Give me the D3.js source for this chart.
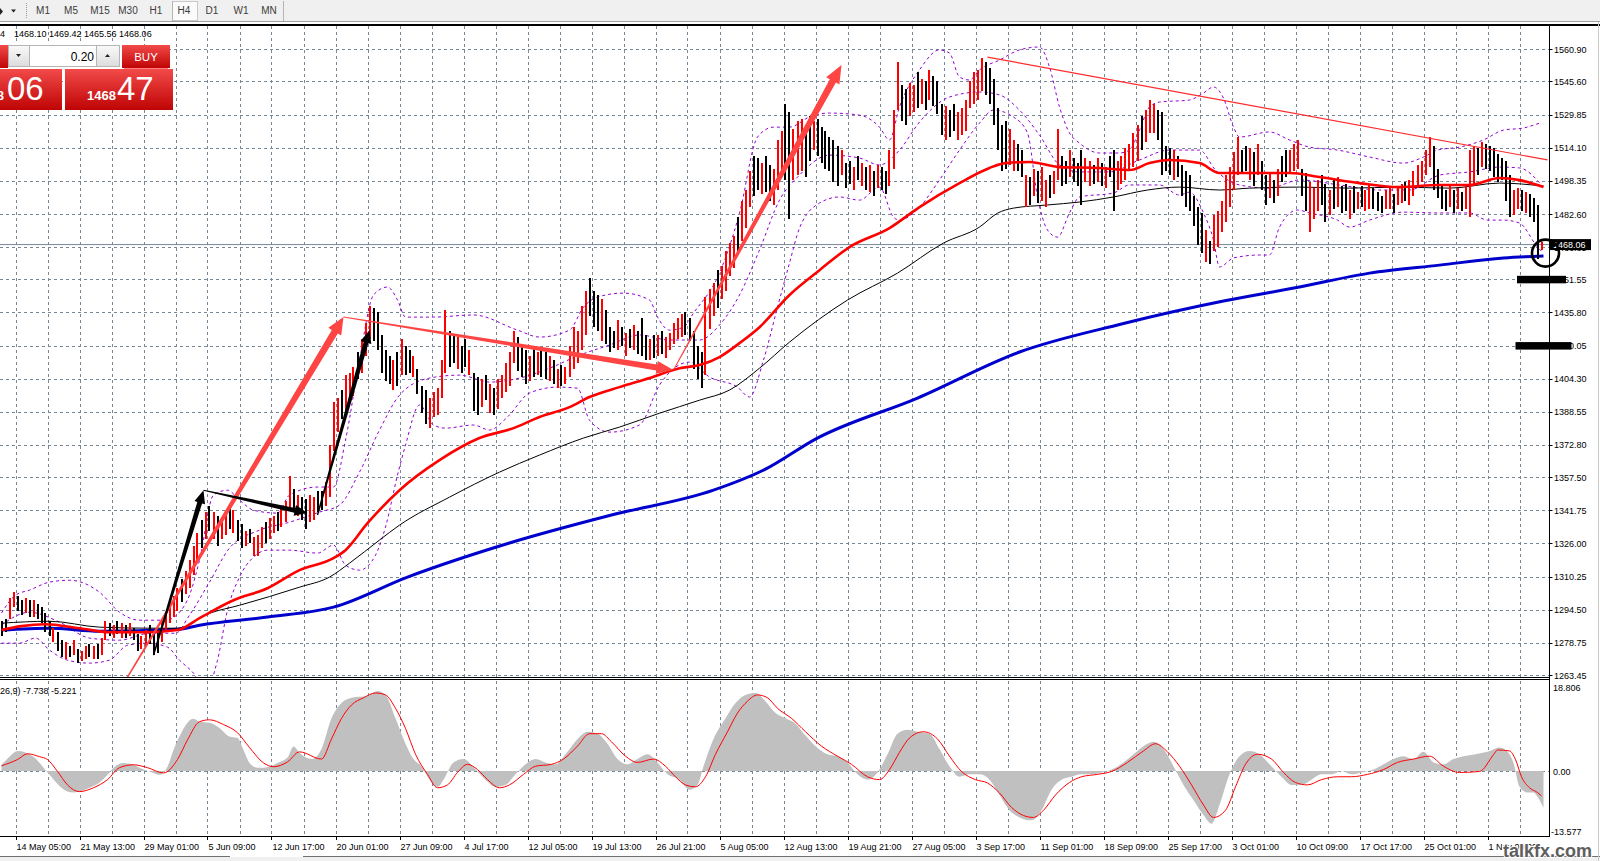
<!DOCTYPE html>
<html>
<head>
<meta charset="utf-8">
<title>XAUUSD H4</title>
<script src="https://d3js.org/d3.v7.min.js"></script>
<style>
  body { margin: 0; background: #fff; overflow: hidden; }
  text { font-family: "Liberation Sans", Arial, sans-serif; }
</style>
</head>
<body>
<svg id="chart" width="1600" height="861"></svg>
<script>
// ---- data ----
var timeframes = ["M1", "M5", "M15", "M30", "H1", "H4", "D1", "W1", "MN"];
var lastQuote = [1468.10, 1469.42, 1465.56, 1468.06];
var lotSize = "0.20";
var sellQuote = ["1468", "06"], buyQuote = ["1468", "47"];

var priceTicks = [1560.90, 1545.60, 1529.85, 1514.10, 1498.35, 1482.60, 1466.85, 1451.55, 1435.80, 1420.05,
                  1404.30, 1388.55, 1372.80, 1357.50, 1341.75, 1326.00, 1310.25, 1294.50, 1278.75, 1263.45];
var timeLabels = ["14 May 05:00", "21 May 13:00", "29 May 01:00", "5 Jun 09:00", "12 Jun 17:00", "20 Jun 01:00",
                  "27 Jun 09:00", "4 Jul 17:00", "12 Jul 05:00", "19 Jul 13:00", "26 Jul 21:00", "5 Aug 05:00",
                  "12 Aug 13:00", "19 Aug 21:00", "27 Aug 05:00", "3 Sep 17:00", "11 Sep 01:00", "18 Sep 09:00",
                  "25 Sep 17:00", "3 Oct 01:00", "10 Oct 09:00", "17 Oct 17:00", "25 Oct 01:00", "1 Nov 09:00"];
var macdTicks = [18.806, 0.00, -13.577];
var macdLegend = "26,9) -7.738 -5.221";

// one entry every 2nd H4 bar
var highs = [
1289,1290,1300,1303,1301,1299,1300,1299, 1299,1297,1296,1293,1289,1286,1284,1280,
1279,1277,1280,1276,1275,1277,1278,1277, 1278,1281,1289,1288,1287,1289,1288,1287,
1288,1286,1283,1282,1285,1287,1284,1285, 1290,1293,1297,1301,1305,1309,1313,1318,
1325,1331,1337,1341,1344,1341,1339,1338, 1341,1344,1342,1337,1335,1332,1333,1329,
1330,1334,1336,1338,1339,1341,1343,1346, 1358,1352,1349,1348,1347,1349,1348,1351,
1351,1355,1373,1393,1395,1399,1406,1407, 1410,1417,1423,1431,1439,1438,1436,1425,
1418,1415,1413,1417,1423,1420,1418,1415, 1409,1401,1399,1395,1398,1400,1413,1437,
1427,1425,1424,1420,1423,1418,1407,1405, 1404,1406,1402,1400,1404,1406,1412,1417,
1427,1424,1420,1418,1415,1419,1417,1418, 1417,1415,1413,1409,1411,1410,1420,1429,
1427,1439,1446,1452,1446,1444,1442,1437, 1429,1427,1432,1429,1426,1428,1430,1427,
1433,1425,1423,1425,1425,1427,1424,1426, 1431,1433,1435,1436,1433,1427,1420,1417,
1443,1447,1450,1456,1458,1465,1469,1472, 1481,1489,1494,1503,1510,1509,1507,1510,
1506,1504,1518,1522,1535,1531,1523,1527, 1528,1525,1529,1527,1528,1524,1522,1519,
1518,1515,1513,1507,1508,1505,1510,1507, 1505,1506,1503,1506,1505,1503,1513,1532,
1555,1544,1542,1545,1544,1550,1547,1546, 1551,1548,1546,1535,1534,1532,1535,1531,
1533,1537,1546,1550,1551,1557,1555,1552, 1547,1533,1525,1527,1523,1518,1516,1513,
1501,1500,1504,1503,1505,1499,1501,1503, 1523,1510,1508,1513,1509,1507,1513,1509,
1508,1506,1509,1507,1505,1510,1513,1508, 1510,1514,1516,1521,1525,1529,1532,1537,
1535,1532,1531,1515,1514,1513,1510,1506, 1503,1501,1491,1486,1483,1475,1470,1482,
1484,1489,1501,1505,1512,1519,1513,1515, 1514,1512,1516,1508,1501,1502,1499,1504,
1510,1513,1513,1516,1518,1504,1502,1498, 1495,1499,1501,1497,1494,1499,1500,1496,
1497,1494,1496,1493,1496,1494,1497,1495, 1493,1491,1494,1495,1492,1496,1497,1498,
1499,1503,1506,1508,1513,1519,1515,1504, 1496,1494,1496,1494,1495,1493,1496,1513,
1515,1514,1517,1516,1515,1514,1511,1509, 1508,1501,1494,1495,1494,1493,1492,1490,
1487,1469.42];
var lows = [
1282,1284,1290,1296,1294,1292,1293,1291, 1291,1290,1288,1284,1282,1279,1275,1272,
1271,1272,1273,1269,1270,1271,1272,1271, 1271,1273,1280,1282,1281,1283,1281,1281,
1282,1280,1275,1276,1277,1278,1273,1274, 1279,1284,1288,1291,1294,1298,1302,1305,
1311,1318,1324,1328,1332,1328,1325,1328, 1330,1333,1331,1327,1324,1325,1326,1320,
1320,1324,1326,1328,1331,1332,1334,1336, 1343,1341,1339,1337,1333,1336,1337,1341,
1342,1344,1348,1370,1379,1385,1389,1393, 1396,1404,1407,1415,1423,1422,1418,1407,
1403,1402,1399,1401,1406,1406,1407,1405, 1397,1388,1383,1381,1386,1387,1395,1407,
1410,1412,1409,1407,1410,1406,1389,1387, 1391,1394,1388,1387,1390,1395,1398,1401,
1412,1408,1405,1402,1403,1405,1406,1405, 1404,1403,1402,1400,1401,1402,1405,1409,
1412,1418,1425,1434,1429,1427,1422,1421, 1417,1419,1418,1420,1415,1419,1418,1416,
1415,1413,1413,1414,1415,1416,1414,1418, 1421,1423,1424,1425,1422,1409,1404,1400,
1406,1428,1434,1438,1442,1446,1453,1457, 1465,1470,1476,1486,1491,1494,1492,1493,
1489,1487,1494,1501,1499,1480,1499,1501, 1503,1500,1508,1513,1510,1507,1504,1503,
1498,1496,1501,1495,1497,1494,1499,1496, 1494,1493,1491,1495,1494,1492,1496,1504,
1532,1527,1525,1529,1531,1533,1535,1532, 1537,1534,1530,1520,1518,1519,1522,1518,
1520,1522,1533,1535,1537,1541,1539,1535, 1525,1513,1503,1504,1506,1503,1503,1500,
1486,1487,1491,1488,1489,1486,1490,1492, 1499,1496,1497,1500,1498,1496,1487,1498,
1496,1497,1498,1496,1495,1500,1484,1494, 1497,1499,1503,1505,1508,1513,1517,1521,
1521,1518,1501,1503,1501,1499,1500,1491, 1486,1484,1477,1468,1464,1460,1459,1465,
1467,1474,1479,1486,1494,1501,1502,1503, 1499,1496,1501,1494,1487,1490,1488,1491,
1498,1500,1502,1503,1504,1491,1484,1474, 1480,1484,1487,1479,1482,1485,1486,1483,
1484,1480,1483,1485,1486,1484,1485,1485, 1484,1483,1485,1485,1483,1487,1488,1489,
1487,1491,1495,1498,1501,1505,1494,1490, 1485,1484,1486,1483,1485,1484,1485,1481,
1497,1501,1505,1504,1503,1500,1498,1499, 1489,1481,1482,1485,1484,1483,1481,1479,
1461,1465.56];
// r = up bar (red), b = down bar (black)
var barColors = ["bbrrbbrb","rbbbbrbb","rbrbrrbr","brrbrbrb","rbbrrbbb","rrrrrbrr","rrbrbrbr","rbrbbrbr",
                 "rrbrrbrr","rbrbbrrb","brrrrbrr","rbrrrbbb","bbrbrbbr","bbbrrrrr","bbrbbrbb","rbrbrrrr",
                 "rbbbrbrb","brbrbrrr","rrrbbbrb","bbrbrbrb","bbrbrbrr","rrrbbbbb","rrrbrrrr","brrrbbrb",
                 "brrrbbrr","rbbrbbbb","bbrbbrbr","brbrbbrr","rbbrrbrb","rbbbrbbr","rrrrrrbb","bbbbrrbb",
                 "rbrbrrbr","rbbrbbbr","rbrbrbbr","rrrrrbrr","rbbbbrbb","bbbbbrbr","rrrrrrbb","rbrbbrbr",
                 "bbrrrbbr","rrbbrbrb","brbrbrrb","bbrrbrrb","rrrrrrbb","bbrbrbrr","rbrbbbbb","bbrrbrbb",
                 "br"].join("");

// moving averages: [bar index, price]
var maRed = [[0,1284.8],[10,1286.7],[22,1287.6],[39,1285.7],[54,1283.8],[74,1283.8],[88,1284.8],[99,1290.5],
             [116,1299.0],[133,1304.7],[149,1313.3],[166,1319.0],[172,1322.8],[183,1335.6],[199,1351.3],
             [219,1365.6],[239,1376.1],[256,1380.8],[269,1386.1],[284,1390.8],[294,1395.6],[309,1400.3],
             [324,1404.6],[339,1409.3],[349,1410.8],[359,1414.6],[369,1421.2],[379,1428.8],[394,1444.1],
             [409,1455.9],[424,1466.9],[444,1475.9],[459,1485.9],[479,1497.3],[494,1504.5],[502,1506.8],
             [514,1507.3],[529,1504.9],[549,1504.5],[564,1503.5],[574,1506.8],[584,1508.3],[599,1506.8],
             [609,1502.1],[644,1502.1],[659,1500.2],[679,1497.3],[699,1495.4],[719,1496.4],[734,1496.4],
             [749,1499.7],[759,1498.7],[771,1495.4]];
var maBlack = [[0,1288.1],[24,1289.0],[49,1286.2],[74,1285.7],[88,1285.7],[104,1292.8],[119,1296.6],
               [149,1305.2],[164,1310.0],[174,1316.6],[189,1327.6],[199,1334.7],[224,1348.0],[249,1359.9],
               [269,1368.0],[291,1376.1],[309,1381.3],[329,1387.9],[349,1394.1],[364,1398.9],[379,1409.3],
               [394,1421.7],[423,1441.7],[448,1454.5],[471,1468.8],[489,1476.4],[498,1483.0],[506,1485.4],
               [523,1486.9],[539,1488.3],[556,1490.7],[573,1494.0],[589,1495.4],[609,1494.0],[624,1494.9],
               [649,1495.4],[674,1494.9],[699,1495.4],[724,1494.9],[749,1497.3],[771,1495.9]];
var maBlue = [[0,1284.8],[24,1285.7],[49,1284.3],[88,1285.2],[99,1287.1],[133,1291.0],[166,1295.7],
              [203,1310.0],[254,1326.2],[305,1339.5],[356,1351.3],[382,1361.3],[407,1375.6],[458,1395.1],
              [509,1417.0],[560,1430.3],[611,1441.2],[649,1447.9],[684,1454.5],[719,1458.3],[751,1461.7],
              [771,1462.6]];

// Bollinger bands: [bar index, price]
var bbUpper = [[0,1292.9],[7,1301.4],[14,1303.8],[24,1307.6],[34,1308.5],[49,1302.8],[59,1293.3],[69,1289.5],
               [82,1289.5],[89,1293.3],[94,1301.4],[99,1318.0],[106,1349.0],[113,1351.3],[119,1346.6],
               [126,1341.8],[138,1340.4],[144,1349.0],[158,1352.8],[166,1352.8],[172,1375.1],[179,1413.2],
               [186,1444.1],[193,1447.9],[198,1441.7],[202,1433.6],[216,1433.6],[236,1434.6],[258,1427.4],
               [269,1424.1],[284,1427.4],[291,1438.3],[298,1443.1],[311,1445.0],[324,1441.7],[328,1433.6],
               [334,1427.4],[341,1428.8],[346,1435.5],[359,1454.5],[369,1483.0],[378,1519.2],[386,1523.9],
               [394,1523.9],[404,1528.7],[414,1530.6],[429,1529.6],[439,1523.9],[444,1517.8],[449,1533.5],
               [459,1551.1],[469,1560.6],[474,1559.1],[479,1547.7],[484,1546.3],[489,1551.1],[499,1555.8],
               [509,1560.6],[519,1562.0],[524,1552.5],[529,1533.5],[534,1521.1],[539,1516.3],[549,1511.6],
               [559,1511.6],[564,1513.0],[569,1522.5],[574,1533.5],[579,1535.8],[594,1536.8],[601,1540.1],
               [606,1543.0],[611,1537.7],[616,1523.9],[619,1519.2],[634,1521.6],[644,1517.8],[654,1514.4],
               [668,1513.0],[684,1509.7],[701,1506.8],[711,1509.7],[718,1513.0],[729,1514.4],[741,1517.8],
               [751,1522.5],[761,1523.5],[769,1525.8]];
var bbMiddle = [[0,1287.2],[14,1293.3],[29,1288.6],[44,1281.0],[59,1280.0],[74,1283.3],[87,1283.3],
                [94,1291.9],[104,1307.6],[114,1323.8],[129,1332.3],[144,1336.1],[159,1340.9],[169,1344.2],
                [179,1359.9],[189,1379.9],[199,1396.5],[214,1404.6],[229,1406.0],[244,1402.7],[259,1404.6],
                [274,1409.3],[289,1415.5],[304,1420.3],[319,1425.1],[334,1422.7],[349,1422.7],[359,1429.8],
                [369,1444.1],[379,1465.5],[389,1489.2],[399,1501.1],[414,1510.6],[429,1509.2],[439,1505.9],
                [449,1513.0],[459,1526.3],[474,1538.2],[489,1540.6],[499,1539.2],[509,1532.0],[519,1520.1],
                [529,1505.9],[539,1502.6],[554,1502.6],[569,1508.3],[584,1513.0],[599,1513.0],[607,1503.5],
                [619,1496.4],[634,1494.9],[649,1498.8],[669,1496.4],[689,1494.0],[704,1494.0],[719,1501.1],
                [734,1502.6],[749,1504.9],[759,1504.5],[770,1496.4]];
var bbLower = [[0,1278.6],[9,1278.6],[17,1281.0],[24,1275.3],[33,1270.5],[44,1269.1],[54,1270.5],[63,1277.6],
               [73,1278.6],[83,1276.7],[89,1270.5],[96,1264.3],[102,1256.2],[108,1270.5],[113,1294.3],
               [119,1310.0],[126,1319.5],[133,1322.8],[144,1322.8],[158,1321.4],[166,1325.2],[172,1315.7],
               [179,1313.3],[187,1320.4],[192,1333.8],[198,1358.5],[202,1372.7],[209,1391.8],[216,1382.3],
               [222,1380.8],[236,1382.3],[244,1379.9],[253,1386.1],[264,1397.5],[278,1400.3],[288,1399.8],
               [294,1384.6],[304,1378.9],[319,1382.3],[329,1401.3],[344,1412.2],[354,1405.1],[368,1400.3],
               [374,1395.6],[381,1413.2],[388,1438.3],[394,1459.3],[399,1475.9],[409,1487.8],[419,1490.7],
               [429,1489.2],[439,1495.4],[446,1481.1],[449,1479.7],[459,1485.9],[469,1498.8],[479,1513.0],
               [489,1525.8],[496,1532.0],[506,1528.7],[513,1521.1],[518,1490.7],[523,1475.0],[528,1471.6],
               [534,1483.1],[539,1490.7],[556,1492.6],[564,1496.4],[579,1496.4],[589,1491.6],[594,1493.0],
               [601,1483.1],[606,1470.2],[609,1457.4],[616,1461.7],[629,1463.1],[634,1463.1],[639,1476.4],
               [648,1484.5],[654,1483.1],[668,1479.7],[674,1476.4],[684,1479.7],[701,1483.5],[718,1483.1],
               [734,1483.1],[743,1479.7],[751,1479.7],[759,1478.3],[768,1466.9],[771,1464.0]];

// MACD(12,26,9): histogram and signal, [bar index, value]
var macdHist = [[0,1.3],[4,3.0],[8,4.2],[16,3.0],[21,0.7],[24,-0.8],[33,-4.3],[36,-4.5],[44,-3.5],[49,-2.4],
                [53,-0.8],[56,0.7],[61,1.7],[66,1.3],[69,0.7],[74,-0.1],[79,-0.8],[83,0.9],[86,4.4],[89,7.2],
                [93,10.1],[96,10.9],[99,10.3],[104,10.1],[109,9.0],[114,7.2],[118,6.9],[121,4.4],[124,1.7],
                [128,0.7],[131,0.7],[138,1.7],[143,2.8],[146,5.1],[149,3.8],[155,2.5],[160,4.6],[165,11.0],
                [170,14.2],[175,15.3],[183,15.7],[188,16.7],[192,15.9],[197,11.0],[202,5.7],[206,2.5],[210,1.0],
                [214,-1.8],[218,-3.3],[221,-1.8],[226,1.8],[231,2.5],[237,0.3],[242,-1.8],[247,-3.3],[252,-2.9],
                [257,-0.7],[262,1.4],[267,2.5],[272,1.8],[277,1.4],[282,3.5],[288,6.7],[293,8.2],[298,7.8],
                [303,5.7],[308,2.5],[313,1.4],[318,2.5],[323,3.5],[328,1.8],[333,-0.7],[339,-1.8],[344,-3.9],
                [348,-2.9],[351,1.0],[356,6.7],[362,11.0],[367,14.2],[372,15.9],[377,16.3],[382,14.6],[387,12.1],
                [392,11.0],[397,9.9],[402,7.4],[407,5.2],[413,3.5],[418,3.1],[423,1.8],[428,-0.7],[433,-1.8],
                [438,-0.3],[443,3.5],[448,7.8],[453,8.6],[458,8.2],[464,7.8],[469,4.6],[474,1.0],[479,-1.2],
                [484,-0.7],[489,-0.7],[494,-1.8],[499,-5.0],[504,-8.2],[509,-9.7],[515,-10.3],[520,-8.2],
                [525,-3.9],[530,-1.8],[535,-1.2],[540,-0.7],[545,-0.7],[550,-0.3],[555,0.3],[561,1.8],[566,3.5],
                [571,5.2],[576,6.1],[581,4.6],[586,1.0],[591,-2.9],[596,-6.1],[601,-9.2],[605,-11.0],[609,-7.1],
                [614,-0.7],[619,3.1],[624,4.2],[629,3.5],[634,1.4],[640,-1.2],[645,-2.9],[650,-2.9],[655,-1.8],
                [660,-0.7],[665,-0.7],[670,0.0],[675,-0.7],[680,-0.3],[686,0.3],[691,1.4],[696,2.5],[701,3.1],
                [706,2.5],[711,4.0],[716,1.8],[721,1.4],[726,2.5],[731,3.1],[737,3.5],[743,4.0],[749,4.9],
                [753,4.0],[756,1.7],[759,-3.3],[763,-4.5],[766,-4.5],[768,-5.4],[771,-7.7]];
var macdSignal = [[0,1.1],[8,2.4],[13,3.6],[19,3.0],[23,2.4],[28,-0.1],[33,-2.9],[39,-4.3],[46,-3.5],[53,-1.8],
                  [59,0.7],[66,1.3],[73,0.7],[81,-0.4],[88,2.4],[93,6.5],[99,10.3],[104,10.7],[111,9.7],[118,8.0],
                  [124,4.9],[131,1.7],[136,0.9],[143,1.9],[149,4.0],[160,2.5],[165,6.7],[170,11.0],[175,13.8],
                  [181,15.3],[187,16.3],[192,15.9],[197,13.1],[202,8.9],[207,3.5],[213,-0.7],[218,-3.5],[223,-2.9],
                  [228,-0.3],[233,1.4],[238,0.3],[243,-1.8],[249,-3.5],[254,-2.9],[261,-0.7],[267,1.0],[275,1.4],
                  [281,2.5],[288,5.2],[294,7.8],[300,7.8],[305,6.1],[312,3.1],[318,1.8],[326,2.5],[332,1.0],
                  [337,-1.2],[342,-2.9],[347,-3.3],[352,-1.2],[357,3.5],[363,8.2],[368,12.1],[373,14.6],[378,15.9],
                  [383,15.3],[388,13.1],[395,11.0],[402,8.2],[410,5.2],[418,3.1],[425,1.4],[433,-1.2],[439,-1.8],
                  [444,0.3],[449,3.9],[454,6.9],[461,8.2],[468,6.7],[474,3.1],[480,-0.1],[487,-1.8],[493,-2.5],
                  [499,-4.6],[505,-7.6],[511,-9.3],[516,-9.7],[521,-8.2],[527,-5.0],[534,-2.4],[540,-1.2],
                  [548,-0.7],[555,-0.1],[563,1.8],[571,4.2],[577,5.7],[583,4.0],[589,1.0],[595,-2.9],[601,-7.1],
                  [606,-9.7],[612,-8.2],[617,-3.3],[622,1.4],[628,3.5],[635,2.5],[641,-0.3],[647,-2.4],[653,-2.9],
                  [660,-1.8],[668,-1.2],[675,-1.2],[683,-0.7],[691,0.3],[698,1.8],[706,2.5],[714,3.1],[721,1.0],
                  [729,-0.3],[739,-0.1],[746,3.4],[748,4.4],[754,4.2],[757,2.4],[760,-1.2],[764,-3.5],[768,-4.5],
                  [770,-5.2]];

// drawn objects, in [bar index, price]
var redArrows = [[[63,1262.4],[171,1433.6]], [[171,1433.6],[336,1408.4]], [[336,1408.4],[420,1553.4]]];
var blackArrows = [[[76,1272.9],[101,1351.3]], [[101,1351.3],[153,1340.4]], [[158,1339.5],[184,1427.4]]];
var trendLine = [[493,1557.2],[773,1508.3]];
var circleAt = [772, 1464.0];
var hiddenLevels = [1451.55, 1420.05];

// ---- layout ----
var W = 1600, H = 861;
var axisX = 1549.5, mainTop = 25, mainBottom = 677, macdTop = 681, macdBottom = 836;
var gridColor = "#778899";

var svg = d3.select("#chart");
var defs = svg.append("defs");

var x = d3.scaleLinear().domain([0, 771]).range([1.5, 1543.5]);
var y = d3.scaleLinear().domain([1263.45, 1560.90]).range([675, 49.3]);
var ym = d3.scaleLinear().domain([-13.577, 18.806]).range([macdBottom, macdTop]);

defs.append("clipPath").attr("id", "mainClip").append("rect")
    .attr("x", 0).attr("y", mainTop + 1).attr("width", axisX).attr("height", mainBottom - mainTop - 1);
defs.append("clipPath").attr("id", "macdClip").append("rect")
    .attr("x", 0).attr("y", macdTop).attr("width", axisX).attr("height", macdBottom - macdTop);

var redGrad = defs.append("linearGradient").attr("id", "redGrad").attr("x1", 0).attr("y1", 0).attr("x2", 0).attr("y2", 1);
redGrad.append("stop").attr("offset", "0%").attr("stop-color", "#f24a4a");
redGrad.append("stop").attr("offset", "100%").attr("stop-color", "#bf0404");
var btnGrad = defs.append("linearGradient").attr("id", "btnGrad").attr("x1", 0).attr("y1", 0).attr("x2", 0).attr("y2", 1);
btnGrad.append("stop").attr("offset", "0%").attr("stop-color", "#fafafa");
btnGrad.append("stop").attr("offset", "100%").attr("stop-color", "#dcdcdc");

svg.append("rect").attr("width", W).attr("height", H).attr("fill", "#fff");

// ---- toolbar ----
var bar = svg.append("g");
bar.append("rect").attr("width", W).attr("height", 21).attr("fill", "#f0f0f0");
bar.append("line").attr("x1", 0).attr("x2", W).attr("y1", 21.5).attr("y2", 21.5).attr("stroke", "#a0a0a0");
bar.append("path").attr("d", "M0,8L3,11.5L0,15Z").attr("fill", "#222");
bar.append("path").attr("d", "M11,9.5L16,9.5L13.5,12.5Z").attr("fill", "#222");
bar.append("line").attr("x1", 26.5).attr("x2", 26.5).attr("y1", 3).attr("y2", 19)
    .attr("stroke", "#999").attr("stroke-dasharray", "1,1");
bar.append("rect").attr("x", 172.5).attr("y", 1.5).attr("width", 25).attr("height", 19)
    .attr("fill", "#fbfbfb").attr("stroke", "#c9c9c9");
[172.5, 283.5].forEach(function(s) {
    bar.append("line").attr("x1", s).attr("x2", s).attr("y1", 1).attr("y2", 21).attr("stroke", "#b4b4b4");
});
var tfX = [43, 71, 100, 128, 156, 184, 212, 241, 269];
bar.selectAll("text.tf").data(timeframes).join("text")
    .attr("class", "tf")
    .attr("x", function(d, i) { return tfX[i]; })
    .attr("y", 14)
    .attr("text-anchor", "middle")
    .attr("font-size", 10)
    .attr("fill", "#3c3c3c")
    .text(function(d) { return d; });

// ---- grid ----
var grid = svg.append("g");
grid.selectAll("line.h").data(priceTicks).join("line")
    .attr("x1", 0).attr("x2", axisX)
    .attr("y1", function(d) { return Math.round(y(d)) + 0.5; })
    .attr("y2", function(d) { return Math.round(y(d)) + 0.5; })
    .attr("stroke", gridColor).attr("stroke-dasharray", "3,3");
var vGrid = d3.range(48).map(function(k) { return 7 + 16 * k; });
grid.selectAll("line.v").data(vGrid).join("line")
    .attr("x1", function(d) { return Math.round(x(d)) + 0.5; })
    .attr("x2", function(d) { return Math.round(x(d)) + 0.5; })
    .attr("y1", mainTop + 1).attr("y2", mainBottom)
    .attr("stroke", gridColor).attr("stroke-dasharray", "3,3");
grid.selectAll("line.vm").data(vGrid).join("line")
    .attr("x1", function(d) { return Math.round(x(d)) + 0.5; })
    .attr("x2", function(d) { return Math.round(x(d)) + 0.5; })
    .attr("y1", macdTop).attr("y2", macdBottom)
    .attr("stroke", gridColor).attr("stroke-dasharray", "3,3");

// ---- main pane ----
var main = svg.append("g").attr("clip-path", "url(#mainClip)");
var curve = d3.line().x(function(d) { return x(d[0]); }).y(function(d) { return y(d[1]); }).curve(d3.curveMonotoneX);

main.append("line").attr("x1", 0).attr("x2", axisX)
    .attr("y1", y(lastQuote[3])).attr("y2", y(lastQuote[3]))
    .attr("stroke", gridColor);

[bbUpper, bbMiddle, bbLower].forEach(function(b) {
    main.append("path").attr("d", curve(b)).attr("fill", "none")
        .attr("stroke", "#9400d3").attr("stroke-width", 1).attr("stroke-dasharray", "3,3");
});

main.append("path").attr("d", curve(maBlue)).attr("fill", "none").attr("stroke", "#0000cd").attr("stroke-width", 3);
main.append("path").attr("d", curve(maBlack)).attr("fill", "none").attr("stroke", "#000").attr("stroke-width", 1);

var bars = highs.map(function(h, j) { return { i: 2 * j, h: h, l: lows[j], up: barColors[j] === "r" }; });
main.selectAll("line.bar").data(bars).join("line")
    .attr("class", "bar")
    .attr("x1", function(d) { return Math.round(x(d.i)); })
    .attr("x2", function(d) { return Math.round(x(d.i)); })
    .attr("y1", function(d) { return y(d.h); })
    .attr("y2", function(d) { return y(d.l); })
    .attr("stroke", function(d) { return d.up ? "#ff0000" : "#000"; })
    .attr("stroke-width", 2)
    .attr("shape-rendering", "crispEdges");

main.append("path").attr("d", curve(maRed)).attr("fill", "none").attr("stroke", "#ff0000").attr("stroke-width", 2.6);

function arrowPath(a, b, w0, w1, hl, hw) {
    var dx = b[0] - a[0], dy = b[1] - a[1], L = Math.hypot(dx, dy);
    var ux = dx / L, uy = dy / L, nx = -uy, ny = ux;
    var bx = b[0] - ux * hl, by = b[1] - uy * hl;
    var pts = [
        [a[0] + nx * w0 / 2, a[1] + ny * w0 / 2],
        [bx + nx * w1 / 2, by + ny * w1 / 2],
        [bx + nx * hw / 2, by + ny * hw / 2],
        b,
        [bx - nx * hw / 2, by - ny * hw / 2],
        [bx - nx * w1 / 2, by - ny * w1 / 2],
        [a[0] - nx * w0 / 2, a[1] - ny * w0 / 2]
    ];
    return "M" + pts.map(function(p) { return p[0].toFixed(1) + "," + p[1].toFixed(1); }).join("L") + "Z";
}
function px(d) { return [x(d[0]), y(d[1])]; }

main.append("line")
    .attr("x1", x(trendLine[0][0])).attr("y1", y(trendLine[0][1]))
    .attr("x2", x(trendLine[1][0])).attr("y2", y(trendLine[1][1]))
    .attr("stroke", "#ff2a2a").attr("stroke-width", 1.2);

var redSpec = [[1.5, 7, 17, 15], [1, 6, 17, 13], [1, 7, 18, 15]];
redArrows.forEach(function(a, k) {
    var s = redSpec[k];
    main.append("path").attr("d", arrowPath(px(a[0]), px(a[1]), s[0], s[1], s[2], s[3]))
        .attr("fill", "#ff4444");
});
var blackSpec = [[1.5, 5, 13, 11], [1, 5, 13, 11], [1.5, 5, 13, 11]];
blackArrows.forEach(function(a, k) {
    var s = blackSpec[k];
    main.append("path").attr("d", arrowPath(px(a[0]), px(a[1]), s[0], s[1], s[2], s[3]))
        .attr("fill", "#000");
});

// ---- MACD pane ----
var macd = svg.append("g").attr("clip-path", "url(#macdClip)");
macd.append("line").attr("x1", 0).attr("x2", axisX).attr("y1", Math.round(ym(0)) + 0.5).attr("y2", Math.round(ym(0)) + 0.5)
    .attr("stroke", gridColor).attr("stroke-dasharray", "3,3");
macd.append("path")
    .attr("d", d3.area().x(function(d) { return x(d[0]); }).y0(ym(0)).y1(function(d) { return ym(d[1]); })
        .curve(d3.curveMonotoneX)(macdHist))
    .attr("fill", "#c0c0c0");
macd.append("path")
    .attr("d", d3.line().x(function(d) { return x(d[0]); }).y(function(d) { return ym(d[1]); })
        .curve(d3.curveMonotoneX)(macdSignal))
    .attr("fill", "none").attr("stroke", "#ff0000").attr("stroke-width", 1);
svg.append("text").attr("x", 0).attr("y", 694).attr("font-size", 9).attr("fill", "#000").text(macdLegend);

// ---- frames and axes ----
var frame = svg.append("g").attr("stroke", "#000").attr("shape-rendering", "crispEdges");
frame.append("line").attr("x1", 0).attr("x2", W).attr("y1", 24.5).attr("y2", 24.5).attr("stroke-width", 2);
frame.append("line").attr("x1", axisX).attr("x2", axisX).attr("y1", 24).attr("y2", macdBottom);
frame.append("line").attr("x1", 0).attr("x2", axisX).attr("y1", mainBottom + 0.5).attr("y2", mainBottom + 0.5);
frame.append("line").attr("x1", 0).attr("x2", axisX).attr("y1", macdTop - 1.5).attr("y2", macdTop - 1.5);
frame.append("line").attr("x1", 0).attr("x2", axisX).attr("y1", macdBottom + 0.5).attr("y2", macdBottom + 0.5);

var yAxis = svg.append("g");
yAxis.selectAll("line").data(priceTicks).join("line")
    .attr("x1", axisX).attr("x2", axisX + 3)
    .attr("y1", function(d) { return Math.round(y(d)) + 0.5; })
    .attr("y2", function(d) { return Math.round(y(d)) + 0.5; })
    .attr("stroke", "#000");
yAxis.selectAll("text").data(priceTicks).join("text")
    .attr("x", 1554).attr("y", function(d) { return y(d) + 3.5; })
    .attr("font-size", 9).attr("fill", "#000")
    .text(function(d) { return d.toFixed(2); });

var mAxis = svg.append("g");
var mPos = [macdTop + 6, ym(0), macdBottom - 5];
mAxis.selectAll("text").data(macdTicks).join("text")
    .attr("x", function(d) { return d < 0 ? 1551 : 1553; })
    .attr("y", function(d, i) { return mPos[i] + 3.5; })
    .attr("font-size", 9).attr("fill", "#000")
    .text(function(d) { return d === 0 ? "0.00" : d.toFixed(3); });

var xAxis = svg.append("g");
xAxis.selectAll("line").data(timeLabels).join("line")
    .attr("x1", function(d, m) { return Math.round(x(7 + 32 * m)) + 0.5; })
    .attr("x2", function(d, m) { return Math.round(x(7 + 32 * m)) + 0.5; })
    .attr("y1", macdBottom).attr("y2", macdBottom + 4).attr("stroke", "#000");
xAxis.selectAll("text").data(timeLabels).join("text")
    .attr("x", function(d, m) { return x(7 + 32 * m) + 1; })
    .attr("y", 850)
    .attr("font-size", 9).attr("fill", "#000")
    .text(function(d) { return d; });

// current price marker
var cp = y(lastQuote[3]);
svg.append("rect").attr("x", 1550).attr("y", cp - 5.5).attr("width", 41).attr("height", 11).attr("fill", "#000");
svg.append("text").attr("x", 1553).attr("y", cp + 3.5).attr("font-size", 9).attr("fill", "#fff")
    .text(lastQuote[3].toFixed(2));

// annotations over the axis
svg.selectAll("rect.hide").data(hiddenLevels).join("rect")
    .attr("class", "hide")
    .attr("x", function(d, i) { return i === 0 ? 1517 : 1515.5; })
    .attr("y", function(d) { return y(d) - 3.5; })
    .attr("width", function(d, i) { return i === 0 ? 49 : 56; })
    .attr("height", 7.5)
    .attr("fill", "#000");
svg.append("circle").attr("cx", x(circleAt[0])).attr("cy", y(circleAt[1])).attr("r", 13.5)
    .attr("fill", "none").attr("stroke", "#000").attr("stroke-width", 2.6);

// OHLC line
svg.append("text").attr("x", 0).attr("y", 37).attr("font-size", 9).attr("fill", "#000").text("4");
svg.append("text").attr("x", 14).attr("y", 37).attr("font-size", 9).attr("fill", "#000")
    .text(lastQuote.map(function(v) { return v.toFixed(2); }).join(" "));

// ---- one click trading panel ----
var panel = svg.append("g");
panel.append("rect").attr("x", 0).attr("y", 45).attr("width", 8).attr("height", 23).attr("fill", "url(#redGrad)");
panel.append("rect").attr("x", 8).attr("y", 44).attr("width", 114).attr("height", 25).attr("fill", "#fff");
panel.append("rect").attr("x", 8.5).attr("y", 45.5).attr("width", 21).attr("height", 21).attr("fill", "url(#btnGrad)").attr("stroke", "#b5b5b5");
panel.append("rect").attr("x", 29.5).attr("y", 45.5).attr("width", 67).attr("height", 21).attr("fill", "#fff").attr("stroke", "#b5b5b5");
panel.append("rect").attr("x", 96.5).attr("y", 45.5).attr("width", 23).attr("height", 21).attr("fill", "url(#btnGrad)").attr("stroke", "#b5b5b5");
panel.append("path").attr("d", "M16,54L21,54L18.5,57Z").attr("fill", "#222");
panel.append("path").attr("d", "M105,57L110,57L107.5,54Z").attr("fill", "#222");
panel.append("text").attr("x", 94).attr("y", 61).attr("text-anchor", "end").attr("font-size", 12).attr("fill", "#000").text(lotSize);
panel.append("rect").attr("x", 122).attr("y", 45).attr("width", 48).attr("height", 23).attr("fill", "url(#redGrad)");
panel.append("line").attr("x1", 124).attr("x2", 168).attr("y1", 68.5).attr("y2", 68.5).attr("stroke", "#ff8080");
panel.append("text").attr("x", 146).attr("y", 61).attr("text-anchor", "middle").attr("font-size", 11.5).attr("fill", "#fff").text("BUY");

panel.append("rect").attr("x", 0).attr("y", 69).attr("width", 62).attr("height", 41).attr("fill", "url(#redGrad)");
panel.append("rect").attr("x", 65).attr("y", 69).attr("width", 108).attr("height", 41).attr("fill", "url(#redGrad)");
panel.append("text").attr("x", 4).attr("y", 100).attr("text-anchor", "end").attr("font-size", 13).attr("font-weight", "bold").attr("fill", "#fff").text(sellQuote[0]);
panel.append("text").attr("x", 7).attr("y", 100).attr("font-size", 33).attr("fill", "#fff").text(sellQuote[1]);
panel.append("text").attr("x", 87).attr("y", 100).attr("font-size", 13).attr("font-weight", "bold").attr("fill", "#fff").text(buyQuote[0]);
panel.append("text").attr("x", 117).attr("y", 100).attr("font-size", 33).attr("fill", "#fff").text(buyQuote[1]);

// ---- window bottom ----
svg.append("rect").attr("x", 0).attr("y", 857).attr("width", W).attr("height", 4).attr("fill", "#f0f0f0");
svg.append("line").attr("x1", 0).attr("x2", 230).attr("y1", 856.5).attr("y2", 856.5).attr("stroke", "#707070");
svg.append("line").attr("x1", 303).attr("x2", W).attr("y1", 856.5).attr("y2", 856.5).attr("stroke", "#707070");
svg.append("line").attr("x1", 1598.5).attr("x2", 1598.5).attr("y1", 22).attr("y2", H).attr("stroke", "#c8c8c8");

svg.append("text").attr("x", 1503).attr("y", 857).attr("font-size", 18).attr("font-weight", "bold")
    .attr("fill", "#5e5e5e").attr("stroke", "#fff").attr("stroke-width", 2).attr("paint-order", "stroke")
    .text("talkfx.com");
</script>
</body>
</html>
